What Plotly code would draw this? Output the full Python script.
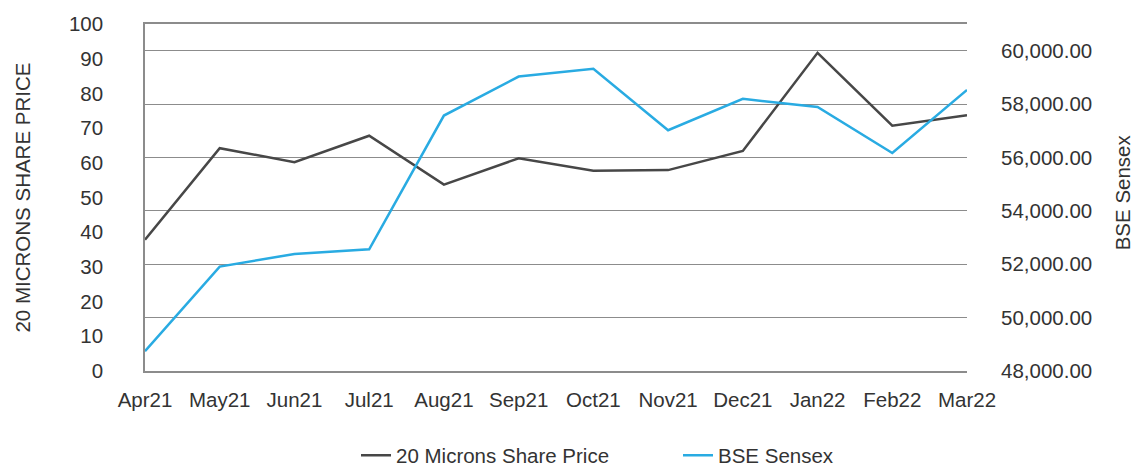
import plotly.graph_objects as go

months = ["Apr21", "May21", "Jun21", "Jul21", "Aug21", "Sep21",
          "Oct21", "Nov21", "Dec21", "Jan22", "Feb22", "Mar22"]
share_price = [37.8, 64.2, 60.2, 67.8, 53.7, 61.3, 57.7, 57.9, 63.4, 91.7, 70.7, 73.7]
sensex = [48740, 51910, 52385, 52560, 57570, 59030, 59320, 57020, 58195, 57890, 56165, 58530]
left_ticks = list(range(0, 101, 10))
right_ticks = list(range(48000, 60001, 2000))

FONT = "Liberation Sans"
TXT = "#333333"
GRID = "#8c8c8c"
FS = 20.5

fig = go.Figure()
fig.add_trace(go.Scatter(x=months, y=share_price, name="20 Microns Share Price",
                         mode="lines", line=dict(color="#474747", width=2.5),
                         yaxis="y"))
fig.add_trace(go.Scatter(x=months, y=sensex, name="BSE Sensex",
                         mode="lines", line=dict(color="#29abe2", width=2.5),
                         yaxis="y2"))

fig.update_layout(
    width=1134, height=468,
    margin=dict(l=145, r=167, t=24, b=96.5, autoexpand=False),
    paper_bgcolor="white", plot_bgcolor="white",
    font=dict(family=FONT, size=FS, color=TXT),
    xaxis=dict(type="category", range=[0, 11], showgrid=False, automargin=False,
               showline=True, linecolor=GRID, linewidth=1.5, mirror=True,
               ticks="", ticklabelstandoff=10, zeroline=False,
               tickfont=dict(size=FS, color=TXT)),
    yaxis=dict(range=[0, 100], tickvals=left_ticks, showgrid=False, automargin=False,
               showline=True, linecolor=GRID, linewidth=1.5,
               ticks="", ticklabelstandoff=36, zeroline=False,
               tickfont=dict(size=FS, color=TXT)),
    yaxis2=dict(range=[48000, 61000], tickvals=right_ticks, overlaying="y",
                side="right", showgrid=True, gridcolor=GRID, gridwidth=1.2,
                tickformat=",.2f", showline=False, ticks="", automargin=False,
                ticklabelstandoff=33, zeroline=False,
                tickfont=dict(size=FS, color=TXT)),
    legend=dict(orientation="h", x=0.2567, xanchor="left", y=-0.243,
                yanchor="middle", font=dict(size=FS, color=TXT),
                entrywidth=277, entrywidthmode="pixels", traceorder="normal"),
    showlegend=True,
)

fig.add_annotation(text="20 MICRONS SHARE PRICE", textangle=-90,
                   xref="paper", yref="paper", x=-0.1496, y=0.5,
                   xanchor="center", yanchor="middle",
                   showarrow=False, font=dict(size=FS, color=TXT))
fig.add_annotation(text="BSE Sensex", textangle=-90,
                   xref="paper", yref="paper", x=1.1886, y=0.515,
                   xanchor="center", yanchor="middle",
                   showarrow=False, font=dict(size=FS, color=TXT))

fig.write_html("out.html", config={"displayModeBar": False},
               post_script="document.body.style.margin='0';document.body.style.overflow='hidden';")
